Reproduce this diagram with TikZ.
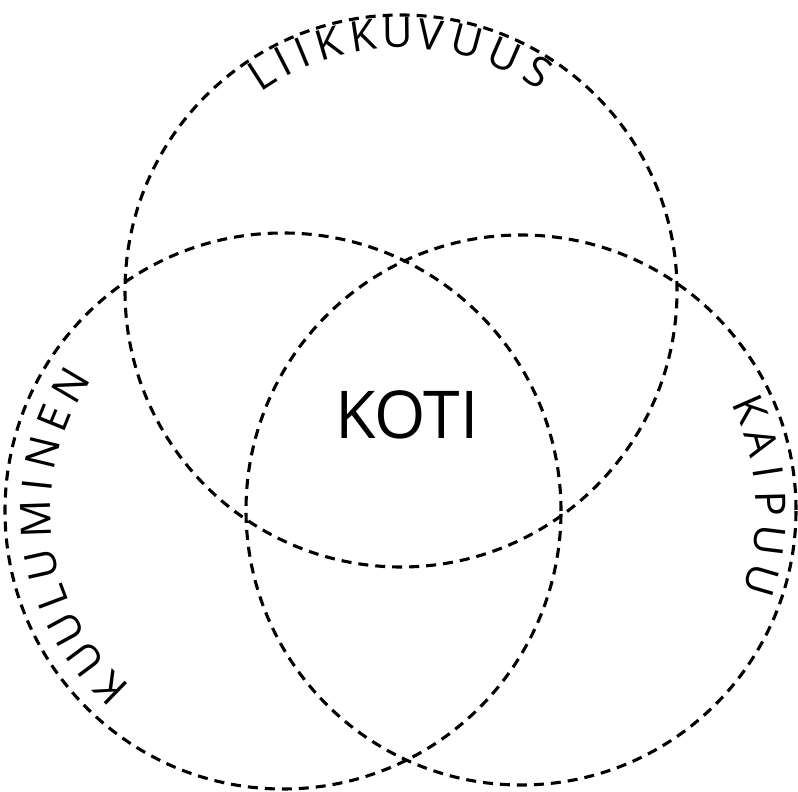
\documentclass[tikz,border=0pt]{standalone}
\usepackage{fontspec}
\setmainfont{Open Sans}
\begin{document}
\begin{tikzpicture}[x=1pt,y=1pt,
  ring/.style={draw=black, line width=3.1pt, dash pattern=on 10pt off 7pt},
  letter/.style={inner sep=0pt, outer sep=0pt, font=\fontsize{42}{42}\selectfont},
  title/.style={inner sep=0pt, font=\fontsize{66}{66}\selectfont}]
\useasboundingbox (0,0) rectangle (798,792);
% circle centres
\coordinate (ctop) at (401,501);
\coordinate (cleft) at (283,281);
\coordinate (cright) at (521,282);
\draw[ring] (ctop) circle (276pt);
\draw[ring] (cleft) circle (278pt);
\draw[ring] (cright) circle (275pt);
% centre word
\node[title] (koti) at (407,377) {KOTI};
% LIIKKUVUUS on top circle
\foreach \ch/\a [count=\i] in {L/122.7, I/117.2, I/112.5, K/106.3, K/98.5, U/90.7, V/83.3, U/75.2, U/66.4, S/58.0}
  \path (ctop) ++(\a:258pt) node[letter, rotate=\a-90] (t\i) {\ch};
% KUULUMINEN on left circle
\foreach \ch/\a [count=\i] in {K/225.8, U/216.8, U/208.7, L/200.6, U/192.6, M/181.9, I/173.9, N/166.2, E/157.9, N/149.4}
  \path (cleft) ++(\a:247pt) node[letter, rotate=\a-90] (l\i) {\ch};
% KAIPUU on right circle
\foreach \ch/\a [count=\i] in {K/23.7, A/15.8, I/8.7, P/1.4, U/-7.0, U/-16.3}
  \path (cright) ++(\a:250pt) node[letter, rotate=\a-90] (r\i) {\ch};
\end{tikzpicture}
\end{document}
